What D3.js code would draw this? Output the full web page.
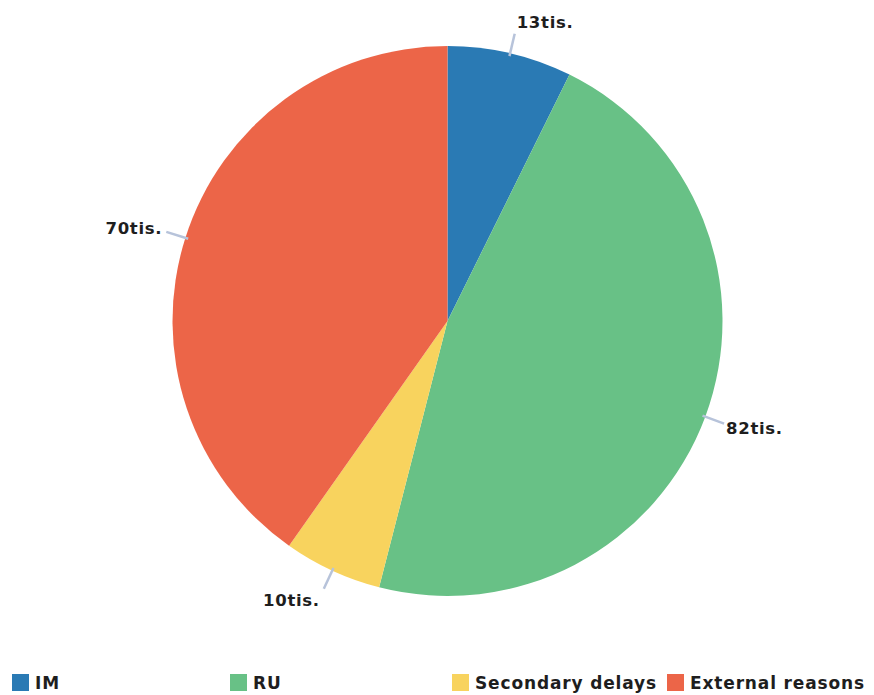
<!DOCTYPE html>
<html>
<head>
<meta charset="utf-8">
<script src="https://cdn.jsdelivr.net/npm/d3@7"></script>
<style>
  html, body { margin: 0; padding: 0; background: #fff; }
  svg { display: block; }
  text { font-family: "DejaVu Sans", sans-serif; font-weight: bold; fill: #1e1e1e; }
</style>
</head>
<body>
<div id="chart"></div>
<script>
// ---- data ----
const categories = ["IM", "RU", "Secondary delays", "External reasons"];
const values = [12.8, 81.7, 10.1, 70.4];
const valueLabels = ["13tis.", "82tis.", "10tis.", "70tis."];
const colors = ["#2a7ab4", "#68c186", "#f8d35e", "#ec6548"];

// ---- layout ----
const width = 874, height = 695;
const cx = 447.5, cy = 321, radius = 275;

const svg = d3.select("#chart").append("svg")
  .attr("width", width).attr("height", height);

const data = categories.map((c, i) => ({ name: c, value: values[i], label: valueLabels[i], color: colors[i] }));

const pie = d3.pie().value(d => d.value).sort(null);
const arc = d3.arc().innerRadius(0).outerRadius(radius);
const arcs = pie(data);

const g = svg.append("g").attr("transform", `translate(${cx},${cy})`);

g.selectAll("path.slice").data(arcs).enter().append("path")
  .attr("class", "slice")
  .attr("d", arc)
  .attr("fill", d => d.data.color);

// leader lines
const lineIn = radius - 3, lineOut = radius + 20;
arcs.forEach(a => {
  const m = (a.startAngle + a.endAngle) / 2;
  const s = Math.sin(m), c = Math.cos(m);
  const x1 = lineIn * s, y1 = -lineIn * c;
  const x2 = lineOut * s, y2 = -lineOut * c;
  g.append("line")
    .attr("x1", x1).attr("y1", y1).attr("x2", x2).attr("y2", y2)
    .attr("stroke", "#b7c3da").attr("stroke-width", 2.5);
  const anchor = s >= 0 ? "start" : "end";
  const tx = x2 + (s >= 0 ? 2 : -4);
  const ty = y2 + 6 - c * 12;
  g.append("text")
    .attr("x", tx).attr("y", ty)
    .attr("text-anchor", anchor)
    .attr("font-size", 16.5)
    .style("letter-spacing", "0.7px")
    .text(a.data.label);
});

// legend
const legendX = [12, 230, 452, 667];
const legend = svg.append("g");
data.forEach((d, i) => {
  legend.append("rect")
    .attr("x", legendX[i]).attr("y", 674)
    .attr("width", 17).attr("height", 17)
    .attr("fill", d.color);
  legend.append("text")
    .attr("x", legendX[i] + 23).attr("y", 689)
    .attr("font-size", 17)
    .style("letter-spacing", "0.85px")
    .text(d.name);
});
</script>
</body>
</html>
